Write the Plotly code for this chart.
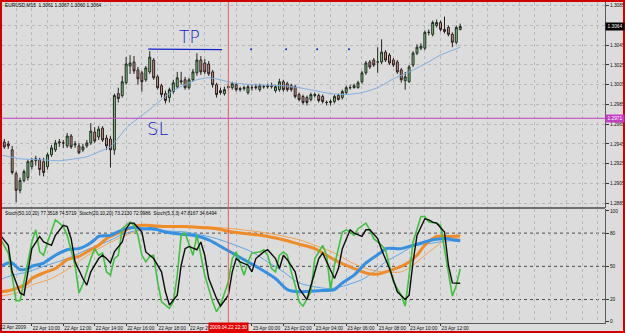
import plotly.graph_objects as go

# ---------------- data ----------------
bar_index = list(range(118))

open_ = [1.2944,1.2947,1.2945,1.2939,1.2915,1.2898,1.2908,1.2911,1.2922,1.2928,
         1.2929,1.2927,1.2922,1.2934,1.2939,1.2946,1.2946,1.2943,1.2953,1.2944,
         1.2943,1.2939,1.2943,1.2946,1.2957,1.2952,1.2961,1.2951,1.2950,1.2939,
         1.2996,1.2994,1.3007,1.3024,1.3028,1.3020,1.3017,1.3010,1.3018,1.3030,
         1.3013,1.3004,1.2996,1.2992,1.2998,1.3003,1.3009,1.3010,1.3002,1.3010,
         1.3017,1.3030,1.3027,1.3026,1.3018,1.3005,1.2999,1.2996,1.3002,1.3002,
         1.3005,1.3000,1.3001,1.2997,1.3002,1.3003,1.3000,1.3003,1.3004,1.3003,
         1.2999,1.3000,1.3008,1.3006,1.3004,1.3003,1.2995,1.2993,1.2992,1.2990,
         1.2994,1.2994,1.2993,1.2987,1.2987,1.2988,1.2994,1.2992,1.2997,1.3002,
         1.3002,1.3002,1.3008,1.3017,1.3028,1.3030,1.3028,1.3028,1.3038,1.3035,
         1.3030,1.3028,1.3020,1.3009,1.3008,1.3025,1.3037,1.3042,1.3042,1.3058,
         1.3056,1.3065,1.3068,1.3061,1.3063,1.3056,1.3048,1.3061]
high_ = [1.2952,1.2950,1.2948,1.2943,1.2917,1.2911,1.2919,1.2929,1.2931,1.2933,
         1.2931,1.2931,1.2936,1.2944,1.2949,1.2950,1.2949,1.2956,1.2955,1.2948,
         1.2946,1.2945,1.2949,1.2966,1.2962,1.2963,1.2963,1.2954,1.2953,1.2996,
         1.3002,1.3014,1.3033,1.3035,1.3034,1.3023,1.3019,1.3024,1.3039,1.3032,
         1.3015,1.3006,1.2999,1.3002,1.3010,1.3018,1.3018,1.3013,1.3012,1.3021,
         1.3037,1.3034,1.3031,1.3029,1.3020,1.3007,1.3002,1.3003,1.3006,1.3008,
         1.3007,1.3003,1.3004,1.3005,1.3005,1.3006,1.3006,1.3005,1.3006,1.3007,
         1.3005,1.3011,1.3010,1.3008,1.3006,1.3005,1.2997,1.2995,1.2994,1.2997,
         1.2997,1.2996,1.2995,1.2989,1.2990,1.2995,1.2996,1.3000,1.3004,1.3005,
         1.3006,1.3009,1.3019,1.3029,1.3030,1.3032,1.3043,1.3051,1.3040,1.3037,
         1.3032,1.3030,1.3022,1.3018,1.3025,1.3039,1.3046,1.3047,1.3060,1.3061,
         1.3070,1.3071,1.3070,1.3074,1.3065,1.3058,1.3065,1.3067]
low_ = [1.2941,1.2940,1.2940,1.2914,1.2886,1.2895,1.2906,1.2908,1.2919,1.2923,
        1.2913,1.2912,1.2919,1.2932,1.2937,1.2942,1.2941,1.2941,1.2940,1.2941,
        1.2935,1.2937,1.2941,1.2944,1.2946,1.2949,1.2947,1.2939,1.2921,1.2934,
        1.2987,1.2992,1.3005,1.3016,1.3016,1.3005,1.2998,1.3008,1.3016,1.3010,
        1.3000,1.2992,1.2986,1.2987,1.2996,1.3001,1.3005,1.3000,1.3000,1.3008,
        1.3014,1.3015,1.3016,1.3014,1.3002,1.2992,1.2995,1.2994,1.3000,1.3000,
        1.2998,1.2998,1.2999,1.2995,1.2999,1.3000,1.2998,1.3001,1.3001,1.3001,
        1.2997,1.2998,1.2998,1.2998,1.2998,1.2991,1.2988,1.2985,1.2984,1.2988,
        1.2992,1.2987,1.2986,1.2984,1.2984,1.2986,1.2989,1.2990,1.2995,1.3000,
        1.3001,1.3001,1.3006,1.3015,1.3021,1.3023,1.3017,1.3026,1.3028,1.3025,
        1.3023,1.3016,1.3007,1.3000,1.3007,1.3023,1.3035,1.3040,1.3040,1.3055,
        1.3054,1.3063,1.3059,1.3057,1.3054,1.3043,1.3046,1.3060]
close_ = [1.2949,1.2942,1.2943,1.2916,1.2898,1.2908,1.2917,1.2927,1.2928,1.2930,
          1.2919,1.2916,1.2934,1.2941,1.2946,1.2947,1.2946,1.2953,1.2942,1.2945,
          1.2936,1.2942,1.2946,1.2958,1.2948,1.2960,1.2949,1.2943,1.2939,1.2994,
          1.2991,1.3008,1.3026,1.3027,1.3019,1.3011,1.3008,1.3022,1.3033,1.3012,
          1.3002,1.2995,1.2989,1.3000,1.3007,1.3012,1.3008,1.3002,1.3010,1.3018,
          1.3030,1.3018,1.3018,1.3016,1.3005,1.2995,1.2997,1.3000,1.3003,1.3006,
          1.3000,1.3001,1.3002,1.3003,1.3002,1.3002,1.3004,1.3003,1.3003,1.3004,
          1.3003,1.3008,1.3000,1.3000,1.3000,1.2993,1.2990,1.2987,1.2987,1.2995,
          1.2995,1.2989,1.2988,1.2987,1.2988,1.2993,1.2990,1.2998,1.3002,1.3002,
          1.3004,1.3007,1.3017,1.3027,1.3023,1.3025,1.3028,1.3038,1.3030,1.3027,
          1.3025,1.3018,1.3010,1.3013,1.3023,1.3037,1.3043,1.3044,1.3058,1.3058,
          1.3068,1.3068,1.3061,1.3059,1.3056,1.3048,1.3063,1.3064]

# moving average on the price chart (read at selected bars)
ma_bars = [0,5,10,15,19,22,25,28,30,32,35,38,41,44,47,50,53,56,59,64,72,76,80,84,88,92,96,100,104,108,112,117]
ma_vals = [1.2934,1.2930,1.2929,1.2928,1.2930,1.2932,1.2937,1.2942,1.2951,1.2961,1.2971,1.2980,1.2990,1.2999,
           1.3005,1.3010,1.3012,1.3010,1.3007,1.3005,1.3004,1.3002,1.2999,1.2996,1.2995,1.2997,1.3002,1.3011,
           1.3018,1.3026,1.3035,1.3043]

# Stochastic oscillators (read at turning points)
s50_main_bars = [0,2,4,7,8,11,14,17,20,22,25,27,30,32,35,38,42,47,51,55,59,64,68,72,76,80,83,86,90,93,96,98,102,104,106,108,111,114,117]
s50_main_vals = [27,28,30,35,39,44,48,56,59,63,69,75,80,83,87,87,86,86,85,84,81,79,77,74,70,66,60,54,48,44,43,45,50,54,60,69,77,77,77.35]
s50_sig_bars = [0,4,8,13,17,21,25,30,34,38,42,51,59,68,76,80,85,89,93,97,102,105,108,112,114,117]
s50_sig_vals = [23,26,33,39,47,57,66,75,81,84,86,86,84,80,74,69,62,54,48,45,45,51,60,71,75,74.57]
s20_main_bars = [0,2,3,5,7,8,11,14,17,20,22,24,25,28,31,34,36,39,42,46,49,53,56,59,63,66,70,73,76,81,85,87,90,93,97,98,102,104,107,110,112,114,115,117]
s20_main_vals = [50,53,53,47,48,50,53,60,65,66,69,74,77,78,83,85,84,84,81,79,78,74,68,62,54,48,39,29,27,28,29,35,42,53,63,66,66,68,71,74,75,75,74,73.21]
s20_sig_bars = [0,3,7,11,17,22,27,32,36,41,47,55,64,68,72,76,83,86,92,95,98,102,105,110,114,117]
s20_sig_vals = [38,42,45,50,57,65,72,80,83,82,81,75,63,54,45,35,30,31,38,45,54,62,68,71,73,72.99]
s5_main_bars = [0,2,4,5,6,8,9,10,11,12,14,15,16,17,19,20,21,23,24,25,26,27,28,29,30,31,33,34,35,36,37,38,39,40,41,43,44,45,46,47,48,49,50,51,52,54,55,56,58,59,60,62,63,64,66,67,68,69,70,71,72,73,74,75,76,77,79,80,82,83,84,85,87,88,89,90,91,93,94,95,97,98,99,100,102,103,104,105,107,108,109,111,112,113,114,115,116,117]
s5_main_vals = [75,62,19,19,36,72,83,63,60,72,92,89,86,78,51,26,34,57,66,60,62,45,42,57,60,84,90,87,78,60,54,59,60,36,18,12,18,42,78,80,69,60,78,60,42,18,9,15,36,57,63,42,54,62,63,65,60,48,45,60,63,60,45,33,18,14,27,57,69,60,29,51,81,83,81,78,84,89,83,75,69,65,50,36,24,14,42,72,95,95,90,89,87,66,45,23,33,47.82]
s5_sig_bars = [0,2,3,5,6,7,8,10,11,13,14,16,17,18,19,21,22,23,25,26,27,28,29,31,32,33,34,36,37,38,39,41,42,43,45,46,47,48,50,51,52,53,55,56,58,59,60,61,63,64,65,67,68,70,71,72,73,75,76,78,80,81,82,83,85,86,87,89,90,92,93,94,96,97,99,101,103,104,105,106,108,109,110,111,113,114,115,117]
s5_sig_vals = [78,69,45,26,24,45,66,77,72,69,78,87,86,75,54,39,33,45,57,60,57,53,63,72,84,89,89,81,63,60,57,45,27,15,24,51,66,68,65,72,60,39,21,14,24,45,57,54,51,45,57,63,65,57,48,60,56,45,30,20,45,57,62,54,39,48,66,83,80,77,83,83,75,65,48,27,20,24,54,78,93,92,90,89,81,51,35,34.65]

# time axis labels (the 22:00 label sits under the cursor box and is not visible)
tick_bars = [8,16,24,32,40,48,64,72,80,88,96,104,112]
tick_text = ["22 Apr 10:00","22 Apr 12:00","22 Apr 14:00","22 Apr 16:00","22 Apr 18:00",
             "22 Apr 20:00","23 Apr 00:00","23 Apr 02:00","23 Apr 04:00",
             "23 Apr 06:00","23 Apr 08:00","23 Apr 10:00","23 Apr 12:00"]
first_label = "22 Apr 2009"
price_ticks = [1.2885,1.2905,1.2925,1.2945,1.2965,1.2985,1.3005,1.3025,1.3045,1.3065,1.3085]
price_tick_text = ["1.2885","1.2905","1.2925","1.2945","1.2965","1.2985","1.3005","1.3025","1.3045","","1.3085"]
osc_ticks = [0,20,50,80,100]
osc_levels = [20,50,80]

sl_level = 1.2971
last_price = 1.3064
tp_level = 1.3041
tp_dots_bars = [63.8,72.7,80.6,88.7]
cursor_bar = 58
cursor_label = "2009.04.22 22:30"
header_main = "EURUSD,M15  1.3061 1.3067 1.3060 1.3064"
header_sub = "Stoch(50,10,20) 77.3518 74.5719  Stoch(20,10,20) 73.2130 72.9986  Stoch(5,3,3) 47.8167 34.6494"

# ---------------- layout geometry ----------------
W, H = 625, 333
ML, MR, MT, MB = 2, 20, 2, 10
PW, PH = W - ML - MR, H - MT - MB

def py(p):
    return (H - MB - p) / PH

def px(p):
    return (p - ML) / PW

FONT = "Liberation Sans"
FS = 4.8
BG = "#dcdcdc"
GRID = "#b9b9b9"
AXC = "#5a5a5a"
PEN = "#1022c8"

fig = go.Figure()

fig.add_trace(go.Candlestick(
    x=bar_index, open=open_, high=high_, low=low_, close=close_,
    xaxis="x2", yaxis="y", whiskerwidth=0,
    increasing=dict(fillcolor="#7fcc7f", line=dict(color="#1f2a1f", width=1)),
    decreasing=dict(fillcolor="#cc9684", line=dict(color="#2a1f1f", width=1)),
    showlegend=False, hoverinfo="skip"))

fig.add_trace(go.Scatter(x=ma_bars, y=ma_vals, mode="lines", xaxis="x2", yaxis="y",
                         line=dict(color="#7eaee0", width=1, shape="spline", smoothing=0.6),
                         showlegend=False, hoverinfo="skip"))

fig.add_trace(go.Scatter(x=tp_dots_bars, y=[tp_level]*len(tp_dots_bars), mode="markers",
                         xaxis="x2", yaxis="y", marker=dict(color=PEN, size=2),
                         showlegend=False, hoverinfo="skip"))

def osc(xs, ys, color, width, smooth=True):
    fig.add_trace(go.Scatter(x=xs, y=ys, mode="lines", xaxis="x", yaxis="y2",
                             line=dict(color=color, width=width,
                                       shape="spline" if smooth else "linear",
                                       smoothing=0.7 if smooth else None),
                             showlegend=False, hoverinfo="skip"))

osc(s50_sig_bars, s50_sig_vals, "#f2a457", 1)
osc(s20_sig_bars, s20_sig_vals, "#5ea6ea", 1)
osc(s50_main_bars, s50_main_vals, "#f08c28", 3)
osc(s20_main_bars, s20_main_vals, "#3590e2", 3)
osc(s5_main_bars, s5_main_vals, "#3fc23f", 1.6, smooth=False)
osc(s5_sig_bars, s5_sig_vals, "#0c0c0c", 1.4, smooth=False)

x_range = [0.41, 153.84]
main_dom = [py(207.5), 1]
sub_dom = [0, py(209)]

common_x = dict(range=x_range, showgrid=True, gridcolor=GRID, griddash="dot", gridwidth=1,
                zeroline=False, fixedrange=True,
                minor=dict(tickmode="linear", tick0=0, dtick=4, showgrid=True,
                           gridcolor=GRID, griddash="dot", gridwidth=1))

fig.update_layout(
    width=W, height=H, margin=dict(l=ML, r=MR, t=MT, b=MB),
    paper_bgcolor=BG, plot_bgcolor=BG, showlegend=False,
    font=dict(family=FONT, size=FS, color="#111111"),
    xaxis=dict(domain=[0, 1], anchor="y2", tickmode="array", tickvals=tick_bars, ticktext=tick_text,
               ticks="outside", ticklen=2, tickcolor="#333333", ticklabelposition="outside right",
               tickangle=0, automargin=False,
               tickfont=dict(size=FS, color="#111111", family=FONT),
               showline=True, linecolor=AXC, linewidth=1, **common_x),
    xaxis2=dict(domain=[0, 1], anchor="y", matches="x", showticklabels=False, ticks="",
                rangeslider=dict(visible=False), **common_x),
    yaxis=dict(domain=main_dom, anchor="x2", side="right", range=[1.28806, 1.30888],
               tickmode="array", tickvals=price_ticks, ticktext=price_tick_text,
               ticks="outside", ticklen=3, tickcolor="#333333", automargin=False,
               tickfont=dict(size=FS, color="#111111", family=FONT),
               showgrid=True, gridcolor=GRID, griddash="dot", zeroline=False,
               showline=True, linecolor=AXC, linewidth=1, fixedrange=True),
    yaxis2=dict(domain=sub_dom, anchor="x", side="right", range=[-1.2, 101.8],
                tickmode="array", tickvals=osc_ticks, ticks="outside", ticklen=3, tickcolor="#333333",
                tickfont=dict(size=FS, color="#111111", family=FONT), automargin=False,
                showgrid=False, zeroline=False, showline=True, linecolor=AXC, linewidth=1,
                fixedrange=True),
)

shapes = []
for lv in osc_levels:
    shapes.append(dict(type="line", xref="x domain", x0=0, x1=1, yref="y2", y0=lv, y1=lv,
                       line=dict(color="#4a4a4a", width=1, dash="dot"), layer="below"))
# separator between windows
shapes.append(dict(type="line", xref="paper", x0=0, x1=1, yref="paper", y0=py(208), y1=py(208),
                   line=dict(color="#6e6e6e", width=2)))
# stop-loss line
shapes.append(dict(type="line", xref="x2 domain", x0=0, x1=1, yref="y", y0=sl_level, y1=sl_level,
                   line=dict(color="#c23fc2", width=1)))
# cursor vertical line
shapes.append(dict(type="line", xref="x", x0=cursor_bar, x1=cursor_bar, yref="paper", y0=0, y1=1,
                   line=dict(color="#e06060", width=1)))
# hand drawn TP underline
shapes.append(dict(type="line", xref="x2", x0=37.6, x1=56.4, yref="y", y0=tp_level, y1=tp_level - 0.00005,
                   line=dict(color=PEN, width=1.3)))
# red window frame
shapes.append(dict(type="rect", xref="paper", yref="paper", x0=px(1), x1=px(624), y0=py(332), y1=py(1),
                   line=dict(color="#d00000", width=2), fillcolor="rgba(0,0,0,0)"))
fig.update_layout(shapes=shapes)

ann = []
ann.append(dict(text=header_main, xref="paper", yref="paper", x=px(3), y=py(5.5), xanchor="left",
                yanchor="middle", showarrow=False, font=dict(size=FS, color="#000000", family=FONT)))
ann.append(dict(text=header_sub, xref="paper", yref="paper", x=px(3), y=py(213.5), xanchor="left",
                yanchor="middle", showarrow=False, font=dict(size=FS, color="#000000", family=FONT)))
ann.append(dict(text=f"{last_price:.4f}", xref="paper", yref="y", x=1, y=last_price, xanchor="left",
                yanchor="middle", showarrow=False, bgcolor="#000000", borderpad=0, width=18, height=7,
                font=dict(size=FS, color="#ffffff", family=FONT)))
ann.append(dict(text=f"{sl_level:.4f}", xref="paper", yref="y", x=1, y=sl_level, xanchor="left",
                yanchor="middle", showarrow=False, bgcolor="#c23fc2", borderpad=0, width=18, height=7,
                font=dict(size=FS, color="#ffffff", family=FONT)))
ann.append(dict(text=first_label, xref="paper", yref="paper", x=px(-2.5), y=py(327.5), xanchor="left",
                yanchor="middle", showarrow=False, font=dict(size=FS, color="#111111", family=FONT)))
ann.append(dict(text=cursor_label, xref="x", yref="paper", x=cursor_bar, y=py(327.5), xanchor="center",
                yanchor="middle", showarrow=False, bgcolor="#e00000", borderpad=0, width=39, height=9,
                font=dict(size=FS, color="#ffffff", family=FONT)))
ann.append(dict(text="TP", xref="x2", yref="y", x=48.2, y=1.3053, xanchor="center", yanchor="middle",
                showarrow=False, font=dict(size=17, color=PEN, family="DejaVu Sans", weight=200)))
ann.append(dict(text="SL", xref="x2", yref="y", x=40.1, y=1.2961, xanchor="center", yanchor="middle",
                showarrow=False, font=dict(size=18, color=PEN, family="DejaVu Sans", weight=200)))
fig.update_layout(annotations=ann)

fig.write_html("out.html", config={"displayModeBar": False})
